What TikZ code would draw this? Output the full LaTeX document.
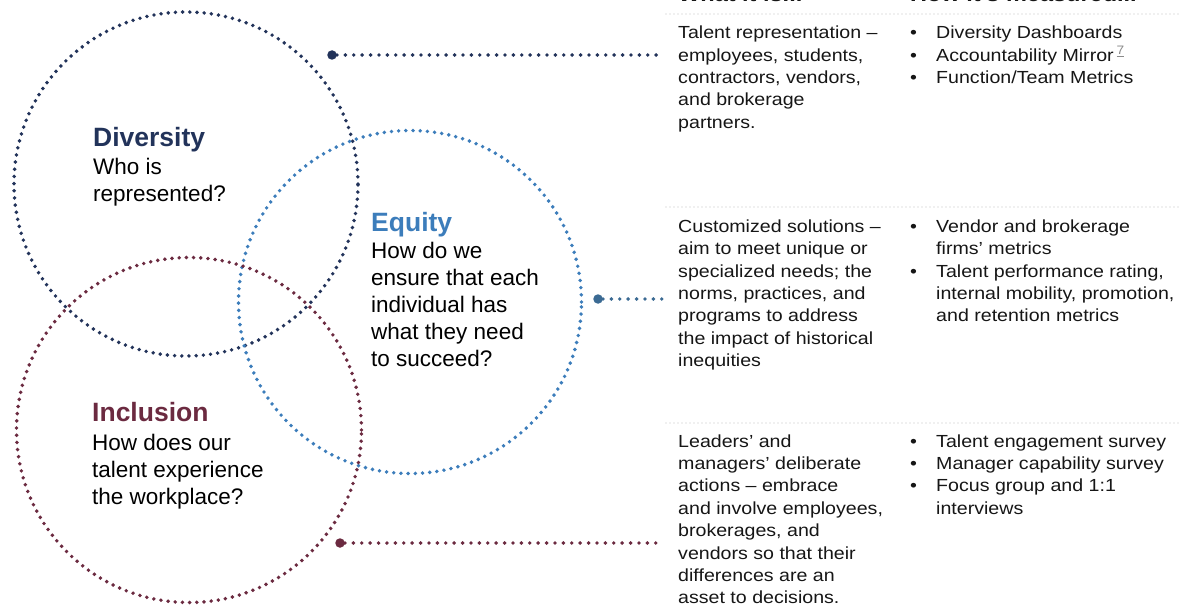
\documentclass[tikz,border=0pt]{standalone}
\usepackage{fontspec}
\usepackage{xcolor}
\usepackage{tikz}
\setmainfont{Liberation Sans}
\newfontfamily\widesans{Liberation Sans}[FakeStretch=1.12]

\definecolor{divnavy}{HTML}{22335A}
\definecolor{eqblue}{HTML}{3C7DBB}
\definecolor{eqdot}{HTML}{3B6A93}
\definecolor{incmaroon}{HTML}{6B2A40}
\definecolor{rulegray}{HTML}{BDBDBD}
\definecolor{bodytext}{HTML}{161616}
\definecolor{notegray}{HTML}{8A8A8A}

\newcommand\ttlfont{\bfseries\fontsize{26.5}{30}\selectfont}
\newcommand\qfont{\fontsize{22.5}{27}\selectfont}
\newcommand\txtfont{\widesans\fontsize{17.5}{22.4}\selectfont}
\newcommand\hdfont{\widesans\bfseries\fontsize{21}{24}\selectfont}
\newcommand\itm{\makebox[26pt][l]{\textbullet}}
\newcommand\cont{\hspace*{26pt}}

\begin{document}
\begin{tikzpicture}[x=1pt,y=-1pt,
    ring/.style={line width=3.9pt,line cap=round,dash pattern=on 0pt off 7.2pt},
    link/.style={line width=3.9pt,line cap=round,dash pattern=on 0pt off 8.4pt},
    endpt/.style={circle,fill,inner sep=0pt,minimum size=9.5pt},
    rowrule/.style={draw=rulegray,line width=1.4pt,line cap=round,dash pattern=on 0pt off 4pt},
    head/.style={anchor=base west,inner sep=0pt,font=\hdfont,text=bodytext},
    ttl/.style={anchor=base west,inner sep=0pt,font=\ttlfont},
    ask/.style={anchor=north west,inner sep=0pt,align=left,font=\qfont,text=black},
    txt/.style={anchor=north west,inner sep=0pt,align=left,font=\txtfont,text=bodytext}]
    \useasboundingbox (0,0) rectangle (1180,607);
    \clip (0,0) rectangle (1180,607);

    % the three circles
    \draw [ring,divnavy] (186,184) circle (172pt);
    \draw [ring,eqblue] (410,302) circle (171.5pt);
    \draw [ring,incmaroon] (189,430) circle (172.5pt);

    \node [ttl,divnavy] (divttl) at (93,146.7) {Diversity};
    \node [ask] (divq) at (93,157.8) {Who is\\represented?};
    \node [ttl,eqblue] (eqttl) at (371,231.7) {Equity};
    \node [ask] (eqq) at (371,241.8) {How do we\\ensure that each\\individual has\\what they need\\to succeed?};
    \node [ttl,incmaroon] (incttl) at (92,421.7) {Inclusion};
    \node [ask] (incq) at (92,433.8) {How does our\\talent experience\\the workplace?};

    % table on the right
    \node [head] (whathd) at (678,1.5) {What it is...};
    \node [head] (howhd) at (910,1.5) {How it’s measured...};
    \coordinate (rulea) at (666,14);  \coordinate (ruleaend) at (1180,14);
    \coordinate (ruleb) at (666,207); \coordinate (rulebend) at (1180,207);
    \coordinate (rulec) at (666,423); \coordinate (rulecend) at (1180,423);
    \draw [rowrule] (rulea) -- (ruleaend);
    \draw [rowrule] (ruleb) -- (rulebend);
    \draw [rowrule] (rulec) -- (rulecend);

    \node [txt] (divwhat) at (678,25.8) {Talent representation –\\employees, students,\\contractors, vendors,\\and brokerage\\partners.};
    \node [txt] (divhow) at (910,25.8) {\itm Diversity Dashboards\\\itm Accountability Mirror\,{\color{notegray}\textsuperscript{\underline{7}}}\\\itm Function/Team Metrics};
    \node [txt] (eqwhat) at (678,219.5) {Customized solutions –\\aim to meet unique or\\specialized needs; the\\norms, practices, and\\programs to address\\the impact of historical\\inequities};
    \node [txt] (eqhow) at (910,219.5) {\itm Vendor and brokerage\\\cont firms’ metrics\\\itm Talent performance rating,\\\cont internal mobility, promotion,\\\cont and retention metrics};
    \node [txt] (incwhat) at (678,434.2) {Leaders’ and\\managers’ deliberate\\actions – embrace\\and involve employees,\\brokerages, and\\vendors so that their\\differences are an\\asset to decisions.};
    \node [txt] (inchow) at (910,434.2) {\itm Talent engagement survey\\\itm Manager capability survey\\\itm Focus group and 1:1\\\cont interviews};

    % connectors
    \node [endpt,divnavy] (divdot) at (332,55) {};
    \node [endpt,eqdot] (eqdot) at (598,299) {};
    \node [endpt,incmaroon] (incdot) at (340,543) {};
    \coordinate (divend) at (664,55);
    \coordinate (eqend) at (664,299);
    \coordinate (incend) at (664,543);
    \draw [link,divnavy] (divdot) -- (divend);
    \draw [link,eqdot] (eqdot) -- (eqend);
    \draw [link,incmaroon] (incdot) -- (incend);
\end{tikzpicture}
\end{document}
